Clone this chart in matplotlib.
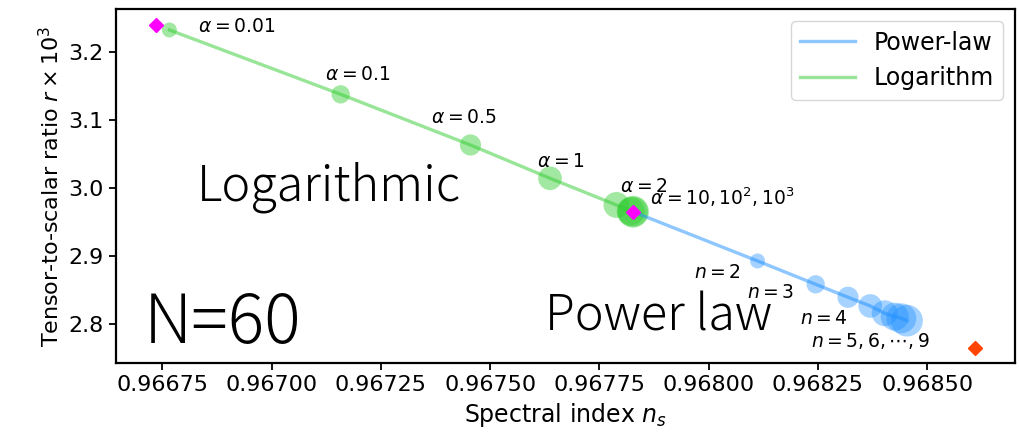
import numpy as np
import matplotlib
matplotlib.use("Agg")
import matplotlib.pyplot as plt
from matplotlib.ticker import FixedLocator, FormatStrFormatter

# Logarithmic model, alpha = 0.01 ... 1000
alpha_vals = [0.01, 0.1, 0.5, 1, 2, 10, 100, 1000]
ns_log = [0.966766, 0.967158, 0.967455, 0.967637, 0.967789, 0.967822, 0.967827, 0.967827]
r_log = [3.2319, 3.1374, 3.0630, 3.0141, 2.9749, 2.9655, 2.9650, 2.9650]

# Power-law model, n = 1 ... 9
n_vals = [1, 2, 3, 4, 5, 6, 7, 8, 9]
ns_pow = [0.967827, 0.968112, 0.968245, 0.968319, 0.968370, 0.968403, 0.968426, 0.968441, 0.968454]
r_pow = [2.9650, 2.8927, 2.8584, 2.8394, 2.8266, 2.8159, 2.8109, 2.8085, 2.8050]

# limiting cases
ns_lim = [0.966736, 0.967827]
r_lim = [3.2392, 2.9650]
ns_other = [0.968609]
r_other = [2.7645]

xticks = [0.96675, 0.96700, 0.96725, 0.96750, 0.96775, 0.96800, 0.96825, 0.96850]
yticks = [2.8, 2.9, 3.0, 3.1, 3.2]

fig = plt.figure(figsize=(10.19, 4.41), dpi=100)
ax = fig.add_axes([0.1135, 0.176, 0.8825, 0.803])

blue = "dodgerblue"
green = "limegreen"

ax.plot(ns_pow, r_pow, color=blue, alpha=0.5, lw=2.4, label="Power-law")
ax.plot(ns_log, r_log, color=green, alpha=0.5, lw=2.4, label="Logarithm")

k_log = np.arange(len(alpha_vals)) + 2
ax.scatter(ns_log, r_log, s=58 * k_log, color=green, alpha=0.45, lw=0)
ax.scatter(ns_pow[1:], r_pow[1:], s=58 * np.array(n_vals[1:]), color=blue, alpha=0.4, lw=0)

ax.plot(ns_lim, r_lim, "D", color="magenta", ms=7, ls="none")
ax.plot(ns_other, r_other, "D", color="orangered", ms=7, ls="none")

# annotations (offsets in points)
fs = 13.5
log_labels = [r"$\alpha=0.01$", r"$\alpha=0.1$", r"$\alpha=0.5$", r"$\alpha=1$", r"$\alpha=2$",
              r"$\alpha=10,10^2,10^3$"]
log_offsets = [(20.7, -1.4), (-11.3, 10.3), (-28.6, 15.8), (-9.4, 8.1), (2.4, 9.4), (13.5, 4.8)]
for i, (lab, off) in enumerate(zip(log_labels, log_offsets)):
    ax.annotate(lab, (ns_log[i], r_log[i]), xytext=off, textcoords="offset points",
                fontsize=fs, ha="left", va="baseline")

pow_labels = [r"$n=2$", r"$n=3$", r"$n=4$", r"$n=5,6,\cdots,9$"]
pow_offsets = [(-45.9, -12.2), (-49.7, -9.9), (-34.8, -19.2), (-43.0, -29.5)]
for i, (lab, off) in enumerate(zip(pow_labels, pow_offsets)):
    ax.annotate(lab, (ns_pow[i + 1], r_pow[i + 1]), xytext=off, textcoords="offset points",
                fontsize=fs, ha="left", va="baseline")

big = dict(family=["Noto Sans CJK JP", "DejaVu Sans"], weight="light", ha="left", va="baseline",
           transform=ax.transAxes)
ax.text(0.0904, 0.461, "Logarithmic", fontsize=35, **big)
ax.text(0.477, 0.094, "Power law", fontsize=35, **big)
ax.text(0.031, 0.057, "N=60", fontsize=49, **big)

ax.set_xlim(0.966643, 0.968701)
ax.set_ylim(2.7423, 3.2623)
ax.xaxis.set_major_locator(FixedLocator(xticks))
ax.xaxis.set_major_formatter(FormatStrFormatter("%.5f"))
ax.yaxis.set_major_locator(FixedLocator(yticks))
ax.yaxis.set_major_formatter(FormatStrFormatter("%.1f"))
ax.tick_params(labelsize=16, length=5, width=1.3)
for sp in ax.spines.values():
    sp.set_linewidth(1.6)

ax.set_xlabel(r"Spectral index $n_s$", fontsize=17)
ax.set_ylabel(r"Tensor-to-scalar ratio $r \times 10^3$", fontsize=16)
ax.legend(loc="upper right", fontsize=17, handlelength=2.3)

fig.savefig("out.png", dpi=100)
